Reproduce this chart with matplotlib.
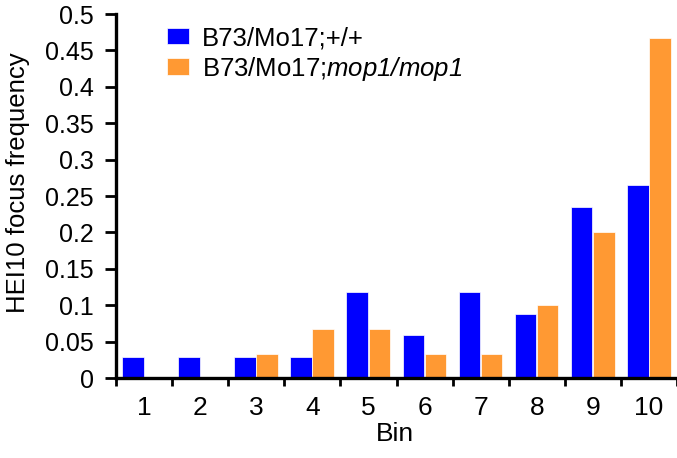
import matplotlib
matplotlib.use('Agg')
import matplotlib.pyplot as plt
import numpy as np

# Datos
bins = ['1', '2', '3', '4', '5', '6', '7', '8', '9', '10']
wild_type = [0.029, 0.029, 0.029, 0.029, 0.118, 0.059, 0.118, 0.088, 0.235, 0.265]
mop1 = [0.0, 0.0, 0.033, 0.067, 0.067, 0.033, 0.033, 0.100, 0.200, 0.467]
y_ticks = [0, 0.05, 0.1, 0.15, 0.2, 0.25, 0.3, 0.35, 0.4, 0.45, 0.5]
y_labels = ['0', '0.05', '0.1', '0.15', '0.2', '0.25', '0.3', '0.35', '0.4', '0.45', '0.5']

plt.rcParams['font.family'] = ['Liberation Sans', 'DejaVu Sans']
plt.rcParams['mathtext.fontset'] = 'custom'
plt.rcParams['mathtext.sf'] = 'Liberation Sans:italic'
plt.rcParams['mathtext.rm'] = 'Liberation Sans'

fig = plt.figure(figsize=(6.77, 4.58), dpi=100)
# ejes: x de 116 a 677 px, y de 14 a 378 px
ax = fig.add_axes([116 / 677, 80 / 458, 561 / 677, 364 / 458])

x = np.arange(len(bins))
w = 0.385
ax.bar(x - 0.2, wild_type, w, color='#0000FF', edgecolor='white', linewidth=0.5,
       label='B73/Mo17;+/+')
ax.bar(x + 0.195, mop1, w, color='#FF9933', edgecolor='white', linewidth=0.5,
       label='B73/Mo17;$\\mathsf{mop1/mop1}$')

ax.set_xlim(-0.5, len(bins) - 0.5)
ax.set_ylim(0, 0.5)
ax.set_yticks(y_ticks)
ax.set_yticklabels(y_labels, fontsize=18)
ax.set_xticks(x)
ax.set_xticklabels(bins, fontsize=19)
ax.set_xticks(np.arange(-0.5, len(bins)), minor=True)
ax.tick_params(axis='x', which='major', length=0, pad=13)
ax.tick_params(axis='x', which='minor', length=6, width=2, direction='out')
ax.tick_params(axis='y', length=8, width=2, direction='out', pad=8)

for side in ('top', 'right'):
    ax.spines[side].set_visible(False)
for side in ('left', 'bottom'):
    ax.spines[side].set_linewidth(2.4)

ax.set_xlabel('Bin', fontsize=19)
ax.xaxis.set_label_coords(0.498, -0.121)
ax.set_ylabel('HEI10 focus frequency', fontsize=18.5)
ax.yaxis.set_label_coords(-0.153, 0.536)

ax.legend(loc='upper left', bbox_to_anchor=(0.091, 0.967), frameon=False, fontsize=18.5,
          borderpad=0, borderaxespad=0,
          handlelength=0.86, handleheight=0.62, handletextpad=0.5, labelspacing=0.18)

plt.savefig('out.png', dpi=100)
plt.close()
